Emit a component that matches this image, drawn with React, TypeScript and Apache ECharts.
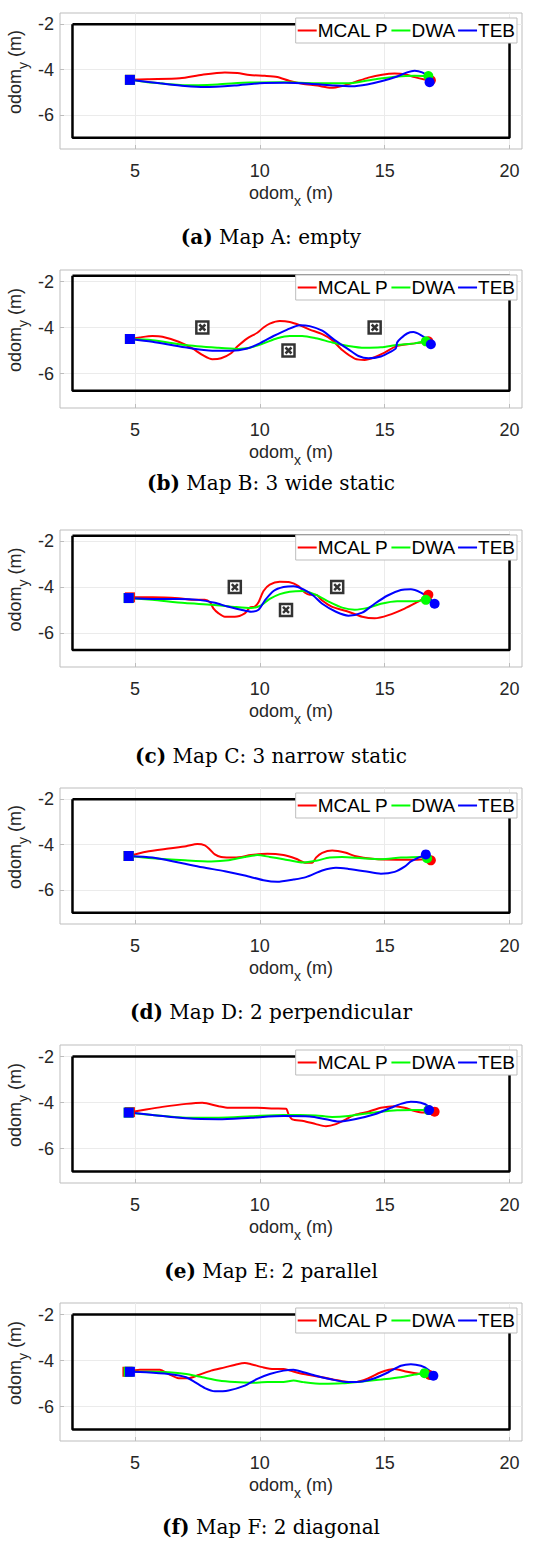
import React, { useEffect, useRef } from 'react';
import * as echarts from 'echarts';

// ---------- data ----------
const seriesNames = ['MCAL P', 'DWA', 'TEB'];
const xTicks = [5, 10, 15, 20];
const yTicks = [-6, -4, -2];

// map bounds: [xMin, xMax, yMin, yMax]
const boundsA = [2.5, 20, -7, -2];
const boundsB = [2.5, 20, -6.75, -1.75];
const boundsC = [2.5, 20, -6.75, -1.75];
const boundsD = [2.5, 20, -7, -2];
const boundsE = [2.5, 20, -7, -2];
const boundsF = [2.5, 20, -7, -2];

const obstaclesB = [[7.7, -4], [11.15, -5], [14.6, -4]];
const obstaclesC = [[9, -4], [11.05, -5], [13.1, -4]];

const redA = [[4.8,-4.45],[5.5,-4.42],[6.8,-4.38],[7.7,-4.22],[8.6,-4.12],[9.1,-4.15],[9.6,-4.24],[10.2,-4.27],[10.7,-4.32],[11.2,-4.5],[11.7,-4.62],[12.3,-4.7],[12.85,-4.8],[13.3,-4.72],[13.8,-4.55],[14.35,-4.35],[14.9,-4.22],[15.4,-4.17],[15.8,-4.2],[16.2,-4.33],[16.6,-4.43],[16.85,-4.47]];
const greenA = [[4.8,-4.45],[5.5,-4.55],[7,-4.69],[8.3,-4.65],[9.6,-4.57],[10.95,-4.56],[12.25,-4.6],[13.55,-4.6],[14.2,-4.5],[14.9,-4.38],[15.5,-4.3],[16.2,-4.27],[16.75,-4.28]];
const blueA = [[4.8,-4.45],[6,-4.6],[7,-4.72],[7.8,-4.77],[9,-4.7],[10,-4.6],[11,-4.58],[12,-4.62],[13,-4.7],[13.7,-4.73],[14.3,-4.65],[14.9,-4.5],[15.5,-4.3],[15.9,-4.12],[16.2,-4.05],[16.5,-4.12],[16.75,-4.3],[16.8,-4.55]];

const redB = [[4.8,-4.5],[5.2,-4.43],[5.7,-4.37],[6.1,-4.4],[6.75,-4.62],[7.3,-4.91],[7.7,-5.19],[8.1,-5.38],[8.45,-5.34],[8.85,-5.12],[9.1,-4.83],[9.5,-4.47],[9.9,-4.23],[10.15,-4.0],[10.4,-3.83],[10.8,-3.72],[11.2,-3.76],[11.6,-3.9],[12,-4.09],[12.5,-4.29],[12.9,-4.55],[13.3,-4.98],[13.8,-5.35],[14.2,-5.41],[14.6,-5.29],[15,-5.09],[15.5,-4.8],[16.2,-4.69],[16.75,-4.6]];
const greenB = [[4.8,-4.5],[5.7,-4.55],[7,-4.76],[8.3,-4.88],[9.1,-4.93],[9.6,-4.88],[10.15,-4.69],[10.7,-4.47],[11.2,-4.37],[11.7,-4.37],[12.25,-4.47],[12.9,-4.65],[13.55,-4.8],[14.2,-4.88],[14.85,-4.86],[15.5,-4.76],[16.2,-4.69],[16.65,-4.6]];
const blueB = [[4.8,-4.5],[5.7,-4.62],[7,-4.86],[8.1,-5.01],[8.85,-5.01],[9.5,-4.91],[10,-4.69],[10.55,-4.37],[11.1,-4.09],[11.6,-3.9],[12,-3.94],[12.5,-4.14],[13,-4.55],[13.55,-4.95],[13.95,-5.24],[14.35,-5.34],[14.85,-5.26],[15.25,-5.05],[15.45,-4.9],[15.5,-4.65],[15.65,-4.47],[15.9,-4.26],[16.15,-4.2],[16.45,-4.33],[16.7,-4.52],[16.85,-4.73]];

const redC = [[4.8,-4.45],[5.7,-4.45],[6.75,-4.49],[7.4,-4.56],[7.8,-4.56],[8.0,-4.66],[8.15,-4.94],[8.35,-5.15],[8.6,-5.3],[9,-5.3],[9.4,-5.15],[9.6,-4.9],[9.8,-4.85],[9.95,-4.66],[10.15,-4.17],[10.4,-3.89],[10.8,-3.77],[11.2,-3.79],[11.55,-3.96],[11.8,-4.24],[12,-4.34],[12.25,-4.34],[12.5,-4.59],[12.9,-4.87],[13.55,-5.08],[14.1,-5.3],[14.6,-5.37],[15.15,-5.23],[15.8,-4.94],[16.3,-4.66],[16.65,-4.45],[16.75,-4.34]];
const greenC = [[4.75,-4.48],[5.7,-4.56],[7,-4.7],[8.1,-4.77],[9,-4.87],[9.65,-4.92],[10.05,-4.8],[10.4,-4.52],[10.8,-4.31],[11.2,-4.2],[11.75,-4.17],[12.25,-4.34],[12.8,-4.66],[13.3,-4.9],[13.8,-4.99],[14.35,-4.9],[14.85,-4.73],[15.5,-4.62],[16.2,-4.62],[16.65,-4.56]];
const blueC = [[4.75,-4.48],[5.7,-4.52],[6.75,-4.52],[7.55,-4.56],[8.2,-4.69],[8.7,-4.85],[9.25,-4.99],[9.65,-5.08],[9.95,-4.99],[10.2,-4.59],[10.55,-4.17],[10.95,-4.0],[11.35,-3.96],[11.75,-4.1],[12.15,-4.38],[12.5,-4.73],[13.05,-5.08],[13.55,-5.25],[14.1,-5.12],[14.6,-4.73],[15.1,-4.38],[15.65,-4.13],[16.05,-4.1],[16.45,-4.24],[16.75,-4.45],[17,-4.73]];

const redD = [[4.75,-4.5],[5.45,-4.31],[6.35,-4.17],[7.05,-4.07],[7.5,-3.97],[7.8,-4.03],[8,-4.21],[8.2,-4.43],[8.45,-4.54],[9,-4.57],[9.65,-4.46],[10.3,-4.4],[10.95,-4.46],[11.45,-4.62],[11.85,-4.8],[12.1,-4.8],[12.25,-4.57],[12.5,-4.36],[12.9,-4.26],[13.45,-4.36],[13.8,-4.5],[14.5,-4.62],[15.5,-4.66],[16.2,-4.66],[16.7,-4.64],[16.85,-4.69]];
const greenD = [[4.75,-4.5],[5.7,-4.6],[7,-4.69],[8.05,-4.74],[8.75,-4.69],[9.4,-4.54],[9.9,-4.46],[10.4,-4.54],[10.95,-4.64],[11.75,-4.79],[12.25,-4.71],[12.8,-4.57],[13.3,-4.54],[14.1,-4.6],[14.85,-4.64],[15.65,-4.57],[16.45,-4.54],[16.7,-4.6]];
const blueD = [[4.75,-4.5],[5.7,-4.57],[6.75,-4.79],[7.7,-5.0],[8.6,-5.17],[9.4,-5.36],[10.15,-5.57],[10.7,-5.64],[11.35,-5.54],[11.85,-5.43],[12.5,-5.14],[13.05,-5.02],[13.55,-5.07],[14.2,-5.17],[14.85,-5.28],[15.4,-5.2],[15.8,-4.97],[16.05,-4.74],[16.3,-4.6],[16.65,-4.43]];

const redE = [[4.8,-4.42],[5.45,-4.3],[6.1,-4.19],[7.05,-4.06],[7.7,-4.01],[8.35,-4.16],[8.75,-4.23],[9.25,-4.23],[9.9,-4.23],[10.55,-4.26],[11.05,-4.27],[11.15,-4.51],[11.3,-4.73],[11.75,-4.8],[12.25,-4.94],[12.65,-5.03],[13.05,-4.94],[13.45,-4.73],[13.8,-4.54],[14.35,-4.4],[14.85,-4.23],[15.4,-4.16],[15.8,-4.23],[16.2,-4.37],[16.55,-4.44],[17,-4.4]];
const greenE = [[4.75,-4.44],[5.7,-4.54],[7.05,-4.66],[8.35,-4.66],[9.65,-4.6],[10.95,-4.54],[11.6,-4.54],[12.25,-4.56],[12.9,-4.63],[13.55,-4.59],[14.2,-4.49],[14.85,-4.4],[15.5,-4.34],[16.2,-4.33],[16.75,-4.33]];
const blueE = [[4.75,-4.44],[5.7,-4.54],[7.05,-4.69],[8.35,-4.73],[9.65,-4.66],[10.95,-4.59],[12,-4.61],[12.65,-4.73],[13.15,-4.83],[13.8,-4.73],[14.6,-4.51],[15.25,-4.23],[15.65,-4.06],[16.05,-3.97],[16.45,-4.01],[16.75,-4.16],[16.78,-4.33]];

const redF = [[4.7,-4.49],[5.2,-4.4],[6,-4.4],[6.35,-4.59],[6.75,-4.77],[7.15,-4.77],[7.55,-4.63],[8.05,-4.44],[8.6,-4.3],[9.1,-4.16],[9.4,-4.11],[9.65,-4.16],[10.15,-4.3],[10.55,-4.37],[10.95,-4.37],[11.2,-4.44],[11.75,-4.59],[12.5,-4.73],[13.3,-4.9],[13.8,-4.94],[14.35,-4.77],[14.85,-4.51],[15.4,-4.37],[15.9,-4.49],[16.45,-4.59],[16.8,-4.63]];
const greenF = [[4.75,-4.49],[5.7,-4.49],[6.35,-4.51],[7.05,-4.59],[7.7,-4.73],[8.35,-4.87],[9,-4.94],[9.65,-4.97],[10.3,-4.94],[10.95,-4.94],[11.35,-4.87],[11.75,-4.94],[12.5,-5.01],[13.3,-4.99],[14.1,-4.91],[14.85,-4.83],[15.65,-4.73],[16.2,-4.61],[16.6,-4.55]];
const blueF = [[4.8,-4.49],[5.45,-4.51],[6.35,-4.59],[7.05,-4.73],[7.4,-4.94],[7.8,-5.2],[8.2,-5.34],[8.75,-5.3],[9.4,-5.09],[9.9,-4.8],[10.4,-4.59],[10.95,-4.44],[11.35,-4.4],[11.75,-4.51],[12.25,-4.66],[12.9,-4.83],[13.55,-4.94],[14.1,-4.91],[14.6,-4.77],[15.15,-4.51],[15.65,-4.23],[16.05,-4.16],[16.45,-4.23],[16.75,-4.4],[16.95,-4.66]];

const captionLabels = ['(a)', '(b)', '(c)', '(d)', '(e)', '(f)'];
const captionTexts = ['Map A: empty', 'Map B: 3 wide static', 'Map C: 3 narrow static', 'Map D: 2 perpendicular', 'Map E: 2 parallel', 'Map F: 2 diagonal'];

const maps = [
  { runs: [redA, greenA, blueA], bounds: boundsA, obstacles: [] as number[][] },
  { runs: [redB, greenB, blueB], bounds: boundsB, obstacles: obstaclesB },
  { runs: [redC, greenC, blueC], bounds: boundsC, obstacles: obstaclesC },
  { runs: [redD, greenD, blueD], bounds: boundsD, obstacles: [] as number[][] },
  { runs: [redE, greenE, blueE], bounds: boundsE, obstacles: [] as number[][] },
  { runs: [redF, greenF, blueF], bounds: boundsF, obstacles: [] as number[][] },
];

// ---------- layout & style ----------
const COLORS = ['#ff0000', '#00ff00', '#0000ff'];
const LAYOUT = [
  { top: 13, height: 136, captionY: 237 },
  { top: 270, height: 138, captionY: 483 },
  { top: 530, height: 137, captionY: 756 },
  { top: 788, height: 136, captionY: 1012 },
  { top: 1045, height: 138, captionY: 1271 },
  { top: 1303, height: 138, captionY: 1527 },
];
const SANS = 'Liberation Sans, Arial, sans-serif';
const SERIF = 'DejaVu Serif, serif';
const TEXT_COLOR = '#262626';
const BOX_COLOR = '#bdbdbd';
const OBSTACLE_PATH = 'path://M0,0H12V12H0Z M3,3L9,9 M9,3L3,9';

const nameRich = {
  t: { fontSize: 18, fontFamily: SANS, color: TEXT_COLOR },
  s: { fontSize: 14, fontFamily: SANS, color: TEXT_COLOR, padding: [16, 0, 0, 0] },
};

function buildOption() {
  const grid: any[] = [];
  const xAxis: any[] = [];
  const yAxis: any[] = [];
  const series: any[] = [];
  const legend: any[] = [];
  const title: any[] = [];

  maps.forEach((m, i) => {
    const L = LAYOUT[i];
    grid.push({
      left: 60, width: 462, top: L.top, height: L.height,
      show: true, borderColor: BOX_COLOR, borderWidth: 1, backgroundColor: '#fff',
      outerBoundsMode: 'none', containLabel: false,
    });
    xAxis.push({
      gridIndex: i, type: 'value', min: 2, max: 20.5,
      axisLine: { show: false },
      axisTick: { show: true, inside: true, length: 4, customValues: xTicks, lineStyle: { color: BOX_COLOR } },
      axisLabel: { customValues: xTicks, fontSize: 18, fontFamily: SANS, color: TEXT_COLOR, margin: 13 },
      splitLine: { show: true, lineStyle: { color: '#ebebeb', width: 1 } },
      name: '{t|odom}{s|x}{t| (m)}',
      nameLocation: 'middle', nameGap: 29, nameMoveOverlap: false,
      nameTextStyle: { rich: nameRich, fontSize: 18, fontFamily: SANS, color: TEXT_COLOR },
    });
    yAxis.push({
      gridIndex: i, type: 'value', min: -7.5, max: -1.5,
      axisLine: { show: false },
      axisTick: { show: true, inside: true, length: 4, customValues: yTicks, lineStyle: { color: BOX_COLOR } },
      axisLabel: { customValues: yTicks, fontSize: 18, fontFamily: SANS, color: TEXT_COLOR, margin: 6 },
      splitLine: { show: true, lineStyle: { color: '#ebebeb', width: 1 } },
      name: '{t|odom}{s|y}{t| (m)}',
      nameLocation: 'middle', nameRotate: 90, nameGap: 30, nameMoveOverlap: false,
      nameTextStyle: { rich: nameRich, fontSize: 18, fontFamily: SANS, color: TEXT_COLOR, padding: [0, 0, 0, 18] },
    });

    const [x0, x1, y0, y1] = m.bounds;
    series.push({
      type: 'line', xAxisIndex: i, yAxisIndex: i, silent: true, symbol: 'none', z: 1,
      data: [[x0, y1], [x1, y1], [x1, y0], [x0, y0], [x0, y1]],
      lineStyle: { color: '#000', width: 2.5 },
    });
    if (m.obstacles.length) {
      series.push({
        type: 'scatter', xAxisIndex: i, yAxisIndex: i, silent: true, z: 3,
        symbol: OBSTACLE_PATH, symbolSize: 12,
        itemStyle: { color: '#fff', borderColor: '#000', borderWidth: 2.5 },
        data: m.obstacles,
      });
    }
    m.runs.forEach((run, k) => {
      series.push({
        type: 'line', name: seriesNames[k], xAxisIndex: i, yAxisIndex: i,
        data: run, showSymbol: false, symbol: 'none', smooth: 0.25, z: 4 + k,
        lineStyle: { color: COLORS[k], width: 2 },
        itemStyle: { color: COLORS[k] },
      });
    });
    m.runs.forEach((run, k) => {
      series.push({
        type: 'scatter', name: seriesNames[k], xAxisIndex: i, yAxisIndex: i, z: 8 + k,
        symbolSize: 10,
        itemStyle: { color: COLORS[k], opacity: 1 },
        data: [
          { value: run[0], symbol: 'rect' },
          { value: run[run.length - 1], symbol: 'circle' },
        ],
      });
    });

    legend.push({
      right: 19, top: L.top + 5, orient: 'horizontal',
      data: seriesNames, icon: 'rect', itemWidth: 19, itemHeight: 2, itemGap: 3,
      padding: [3, 2], backgroundColor: '#fff', borderColor: BOX_COLOR, borderWidth: 1,
      borderRadius: 0, selectedMode: false, z: 20,
      textStyle: { fontSize: 19, fontFamily: SANS, color: '#000', padding: [0, 0, 0, -4] },
    });

    title.push({
      text: `{b|${captionLabels[i]}} {r|${captionTexts[i]}}`,
      left: 271, textAlign: 'center', top: L.captionY - 11, padding: 0,
      textStyle: {
        fontSize: 20, lineHeight: 22, fontFamily: SERIF, color: '#000', fontWeight: 'normal',
        rich: {
          b: { fontSize: 20, lineHeight: 22, fontFamily: SERIF, fontWeight: 'bold', color: '#000' },
          r: { fontSize: 20, lineHeight: 22, fontFamily: SERIF, fontWeight: 'normal', color: '#000' },
        },
      },
    });
  });

  return {
    animation: false,
    backgroundColor: '#fff',
    grid, xAxis, yAxis, series, legend, title,
  };
}

export default function App() {
  const ref = useRef<HTMLDivElement>(null);
  useEffect(() => {
    if (!ref.current) return;
    const chart = echarts.init(ref.current, null, { renderer: 'svg' });
    chart.setOption(buildOption() as any);
    return () => chart.dispose();
  }, []);
  return (
    <div
      ref={ref}
      style={{ position: 'absolute', left: 0, top: 0, width: 536, height: 1541, background: '#fff' }}
    />
  );
}
